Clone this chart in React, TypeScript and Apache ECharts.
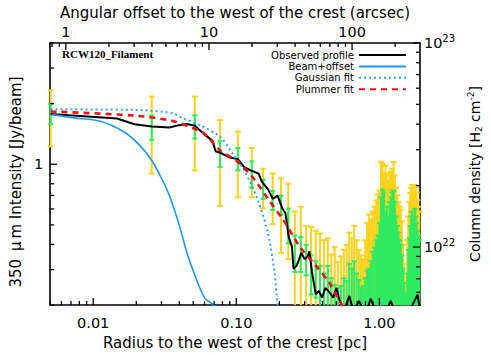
import { useEffect, useRef } from 'react';
import * as echarts from 'echarts';

// Axis ranges
const radiusRange = [0.005, 1.92]; // pc
const intensityRange = [0.2, 4]; // Jy/beam
const columnRange = [5.2e21, 1e23]; // H2 cm^-2
const pcPerArcsec = 0.00644;

// Observed profile
const obsR = [0.00504, 0.01468, 0.01944, 0.02574, 0.03411, 0.03981, 0.04524, 0.05136, 0.05989, 0.0681, 0.07165, 0.07737, 0.0902, 0.1025, 0.1136, 0.1259, 0.143, 0.1504, 0.1667, 0.18, 0.1944, 0.2099, 0.2208, 0.2327, 0.2447, 0.2512, 0.2642, 0.2853, 0.3001, 0.3162, 0.3241, 0.3379, 0.3592, 0.3777, 0.398, 0.4188, 0.4406, 0.4756, 0.5012, 0.5272, 0.569, 0.6166, 0.66, 0.72, 0.8, 0.87, 0.95, 1.05, 1.2, 1.3, 1.5, 1.7, 1.85, 1.92];
const obsI = [1.774, 1.687, 1.58, 1.539, 1.522, 1.563, 1.585, 1.551, 1.406, 1.31, 1.16, 1.14, 1.079, 1.06, 0.968, 0.933, 0.9, 0.822, 0.75, 0.673, 0.698, 0.603, 0.571, 0.435, 0.39, 0.303, 0.314, 0.363, 0.338, 0.35, 0.37, 0.292, 0.226, 0.235, 0.218, 0.243, 0.235, 0.218, 0.243, 0.211, 0.19, 0.222, 0.185, 0.21, 0.18, 0.215, 0.185, 0.17, 0.21, 0.18, 0.16, 0.2, 0.225, 0.19];

// Beam + offset
const beamR = [0.00514, 0.00736, 0.01106, 0.01624, 0.021, 0.02574, 0.03001, 0.03411, 0.03981, 0.04524, 0.05136, 0.05989, 0.06982, 0.0774];
const beamI = [1.762, 1.698, 1.638, 1.453, 1.247, 1.04, 0.852, 0.698, 0.503, 0.363, 0.281, 0.218, 0.1995, 0.185];

// Gaussian fit
const gaussR = [0.00504, 0.01944, 0.03589, 0.04188, 0.0569, 0.07737, 0.0949, 0.1166, 0.143, 0.1667, 0.1848, 0.1944, 0.204];
const gaussI = [1.873, 1.861, 1.793, 1.698, 1.551, 1.366, 1.119, 0.9, 0.649, 0.452, 0.292, 0.1995, 0.16];

// Plummer fit
const plumR = [0.00504, 0.01944, 0.03589, 0.05136, 0.05989, 0.07737, 0.1, 0.129, 0.1667, 0.2154, 0.2779, 0.3592, 0.4406, 0.5412, 0.585];
const plumI = [1.827, 1.743, 1.638, 1.496, 1.417, 1.169, 1.04, 0.868, 0.673, 0.522, 0.39, 0.314, 0.262, 0.203, 0.186];

// Error bars (0.1 = extends below the plotted range)
const barR = [0.00504, 0.02565, 0.0513, 0.077, 0.1026, 0.1283, 0.1539, 0.1796, 0.2052, 0.2309, 0.2565, 0.2822, 0.3078, 0.3335, 0.3591, 0.3848, 0.4104, 0.4361, 0.4617, 0.4874, 0.513, 0.5387, 0.5643, 0.59, 0.6156, 0.6413, 0.6669, 0.6926, 0.7182, 0.7439, 0.7695, 0.7952, 0.8208, 0.8465, 0.8721, 0.8978, 0.9234, 0.9491, 0.9747, 1.0004, 1.026, 1.0517, 1.0773, 1.103, 1.1286, 1.1543, 1.1799, 1.2056, 1.2312, 1.2569, 1.2825, 1.3082, 1.3338, 1.3595, 1.3851, 1.4108, 1.4364, 1.4621, 1.4877, 1.5134, 1.539, 1.5647, 1.5903, 1.616, 1.6416, 1.6673, 1.6929, 1.7186, 1.7442, 1.7699, 1.7955, 1.8212, 1.8468, 1.8725, 1.8981];
const yellowHi = [2.329, 2.167, 2.167, 1.656, 1.453, 1.204, 0.95, 0.9, 0.852, 0.801, 0.582, 0.615, 0.494, 0.489, 0.468, 0.453, 0.42, 0.429, 0.356, 0.389, 0.327, 0.349, 0.376, 0.398, 0.458, 0.429, 0.494, 0.42, 0.376, 0.353, 0.338, 0.42, 0.511, 0.563, 0.533, 0.582, 0.615, 0.663, 0.708, 0.74, 1.025, 1.003, 0.9, 0.982, 0.88, 0.825, 0.9, 0.92, 0.95, 1.025, 0.88, 0.764, 0.7, 0.649, 0.615, 0.595, 0.522, 0.398, 0.32, 0.257, 0.277, 0.42, 0.551, 0.649, 0.724, 0.764, 0.789, 0.74, 0.685, 0.789, 0.764, 0.724, 0.663, 0.615, 0.582];
const yellowLo = [1.225, 0.9, 0.933, 0.621, 0.685, 0.685, 0.603, 0.504, 0.363, 0.338, 0.1, 0.1, 0.1, 0.1, 0.1, 0.1, 0.1, 0.1, 0.1, 0.1, 0.1, 0.1, 0.1, 0.1, 0.1, 0.1, 0.1, 0.1, 0.1, 0.1, 0.1, 0.1, 0.1, 0.1, 0.1, 0.1, 0.1, 0.1, 0.1, 0.1, 0.1, 0.1, 0.1, 0.1, 0.1, 0.1, 0.1, 0.1, 0.1, 0.1, 0.1, 0.1, 0.1, 0.1, 0.1, 0.1, 0.1, 0.1, 0.1, 0.1, 0.1, 0.1, 0.1, 0.1, 0.1, 0.1, 0.1, 0.1, 0.1, 0.1, 0.1, 0.1, 0.1, 0.1, 0.1];
const greenHi = [1.986, 1.743, 1.749, 1.303, 1.204, 1.033, 0.836, 0.737, 0.698, 0.603, 0.443, 0.435, 0.398, 0.353, 0.33, 0.313, 0.287, 0.313, 0.272, 0.252, 0.243, 0.249, 0.272, 0.263, 0.32, 0.303, 0.33, 0.287, 0.266, 0.243, 0.249, 0.272, 0.296, 0.303, 0.33, 0.368, 0.385, 0.42, 0.443, 0.511, 0.685, 0.748, 0.724, 0.582, 0.615, 0.551, 0.649, 0.685, 0.724, 0.74, 0.649, 0.551, 0.494, 0.458, 0.42, 0.398, 0.353, 0.303, 0.257, 0.218, 0.2306, 0.287, 0.376, 0.429, 0.494, 0.551, 0.582, 0.533, 0.494, 0.601, 0.551, 0.511, 0.468, 0.443, 0.42];
const greenLo = [1.58, 1.317, 1.342, 0.968, 0.933, 0.764, 0.673, 0.593, 0.562, 0.405, 0.292, 0.292, 0.281, 0.226, 0.218, 0.1, 0.1, 0.1, 0.1, 0.1, 0.1, 0.1, 0.1, 0.1, 0.1, 0.1, 0.1, 0.1, 0.1, 0.1, 0.1, 0.1, 0.1, 0.1, 0.1, 0.1, 0.1, 0.1, 0.1, 0.1, 0.1, 0.1, 0.1, 0.1, 0.1, 0.1, 0.1, 0.1, 0.1, 0.1, 0.1, 0.1, 0.1, 0.1, 0.1, 0.1, 0.1, 0.1, 0.1, 0.1, 0.1, 0.1, 0.1, 0.1, 0.1, 0.1, 0.1, 0.1, 0.1, 0.1, 0.1, 0.1, 0.1, 0.1, 0.1];

const FONT = 'DejaVu Sans';

function isPow10(v: number) {
  const l = Math.log10(v);
  return Math.abs(l - Math.round(l)) < 1e-6;
}

function logTicks(lo: number, hi: number) {
  const out: { v: number; major: boolean }[] = [];
  const k0 = Math.floor(Math.log10(lo));
  const k1 = Math.ceil(Math.log10(hi));
  for (let k = k0; k <= k1; k++) {
    for (let m = 1; m <= 9; m++) {
      const v = m * Math.pow(10, k);
      if (v >= lo * 0.9999 && v <= hi * 1.0001) out.push({ v, major: m === 1 });
    }
  }
  return out;
}

function errorSeries(hi: number[], lo: number[], color: string, cap: number, z: number) {
  return {
    type: 'custom',
    xAxisIndex: 0,
    yAxisIndex: 0,
    z,
    silent: true,
    data: barR.map((r, i) => [r, hi[i], lo[i]]),
    encode: { x: 0, y: [1, 2] },
    renderItem: (params: any, api: any) => {
      const cs = params.coordSys;
      const r = api.value(0);
      const h = api.value(1);
      const l = api.value(2);
      const top = api.coord([r, h]);
      const bottomEdge = cs.y + cs.height;
      const below = l < intensityRange[0];
      const bot = below ? [top[0], bottomEdge] : api.coord([r, l]);
      const children: any[] = [
        { type: 'line', shape: { x1: top[0], y1: top[1], x2: top[0], y2: bot[1] }, style: { stroke: color, lineWidth: 2 } },
        { type: 'line', shape: { x1: top[0] - cap, y1: top[1], x2: top[0] + cap, y2: top[1] }, style: { stroke: color, lineWidth: 2 } },
      ];
      if (!below) {
        children.push({ type: 'line', shape: { x1: bot[0] - cap, y1: bot[1], x2: bot[0] + cap, y2: bot[1] }, style: { stroke: color, lineWidth: 2 } });
      }
      return { type: 'group', children };
    },
  };
}

function tickSeries(kind: 'bottom' | 'top' | 'left' | 'right', ticks: { v: number; major: boolean }[]) {
  const isX = kind === 'bottom' || kind === 'top';
  return {
    type: 'custom',
    xAxisIndex: kind === 'top' ? 1 : 0,
    yAxisIndex: kind === 'right' ? 1 : 0,
    z: 10,
    silent: true,
    data: ticks.map((t) => (isX ? [t.v, 1] : [1, t.v])),
    encode: { x: 0, y: 1 },
    renderItem: (params: any, api: any) => {
      const cs = params.coordSys;
      const t = ticks[params.dataIndex];
      const len = t.major ? 7 : 4;
      const p = api.coord([api.value(0), api.value(1)]);
      let shape;
      if (kind === 'bottom') {
        const y = cs.y + cs.height;
        shape = { x1: p[0], y1: y, x2: p[0], y2: y - len };
      } else if (kind === 'top') {
        const y = cs.y;
        shape = { x1: p[0], y1: y, x2: p[0], y2: y + len };
      } else if (kind === 'left') {
        const x = cs.x;
        shape = { x1: x, y1: p[1], x2: x + len, y2: p[1] };
      } else {
        const x = cs.x + cs.width;
        shape = { x1: x, y1: p[1], x2: x - len, y2: p[1] };
      }
      return { type: 'line', shape, style: { stroke: '#000', lineWidth: 1.3 } };
    },
  };
}

const pairs = (xs: number[], ys: number[]) => xs.map((x, i) => [x, ys[i]]);

export default function App() {
  const ref = useRef<HTMLDivElement>(null);
  useEffect(() => {
    if (!ref.current) return;
    const chart = echarts.init(ref.current, undefined, { renderer: 'svg' });
    const axisLine = { show: true, lineStyle: { color: '#000', width: 1.6 } };
    const arcRange = [radiusRange[0] / pcPerArcsec, radiusRange[1] / pcPerArcsec];
    const option: any = {
      animation: false,
      backgroundColor: '#fff',
      textStyle: { fontFamily: FONT },
      grid: { left: 42, right: 62, top: 33, bottom: 45, containLabel: false },
      legend: {
        data: ['Observed profile', 'Beam+offset', 'Gaussian fit', 'Plummer fit'],
        orient: 'vertical',
        align: 'right',
        right: 79,
        top: 45,
        itemWidth: 47,
        itemHeight: 10,
        itemGap: 1.4,
        selectedMode: false,
        itemStyle: { opacity: 0 },
        textStyle: { fontFamily: FONT, fontSize: 10, color: '#000' },
      },
      graphic: [
        {
          type: 'text',
          left: 62,
          top: 48,
          style: { text: 'RCW120_Filament', font: 'bold 11px "Liberation Serif"', fill: '#000' },
        },
      ],
      xAxis: [
        {
          type: 'log',
          position: 'bottom',
          min: radiusRange[0],
          max: radiusRange[1],
          name: 'Radius to the west of the crest [pc]',
          nameLocation: 'middle',
          nameGap: 25,
          nameTextStyle: { fontFamily: FONT, fontSize: 15, color: '#000' },
          axisLine,
          axisTick: { show: false },
          splitLine: { show: false },
          axisLabel: {
            margin: 10,
            fontFamily: FONT,
            fontSize: 14.5,
            color: '#000',
            formatter: (v: number) => (isPow10(v) ? v.toFixed(2) : ''),
          },
        },
        {
          type: 'log',
          position: 'top',
          min: arcRange[0],
          max: arcRange[1],
          name: 'Angular offset to the west of the crest (arcsec)',
          nameLocation: 'middle',
          nameGap: 16,
          nameTextStyle: { fontFamily: FONT, fontSize: 15, color: '#000' },
          axisLine,
          axisTick: { show: false },
          splitLine: { show: false },
          axisLabel: {
            margin: 3,
            fontFamily: FONT,
            fontSize: 14.5,
            color: '#000',
            formatter: (v: number) => (isPow10(v) ? String(Math.round(v)) : ''),
          },
        },
      ],
      yAxis: [
        {
          type: 'log',
          position: 'left',
          min: intensityRange[0],
          max: intensityRange[1],
          name: '350 {mu|μ}m Intensity [Jy/beam]',
          nameLocation: 'middle',
          nameGap: 22,
          nameRotate: 90,
          nameTextStyle: {
            fontFamily: FONT,
            fontSize: 15,
            color: '#000',
            padding: [0, 16, 0, 0],
            rich: { mu: { fontFamily: FONT, fontSize: 15, color: '#000', padding: [0, 3, 0, 3] } },
          },
          axisLine,
          axisTick: { show: false },
          splitLine: { show: false },
          axisLabel: {
            margin: 7,
            fontFamily: FONT,
            fontSize: 14.5,
            color: '#000',
            formatter: (v: number) => (isPow10(v) ? String(Math.round(v)) : ''),
          },
        },
        {
          type: 'log',
          position: 'right',
          min: columnRange[0],
          max: columnRange[1],
          name: 'Column density [H{sub|2} cm{sup|-2}]',
          nameLocation: 'middle',
          nameGap: 40,
          nameRotate: 90,
          nameTextStyle: {
            fontFamily: FONT,
            fontSize: 14,
            color: '#000',
            rich: {
              sub: { fontFamily: FONT, fontSize: 9, color: '#000', padding: [8, 0, 0, 0] },
              sup: { fontFamily: FONT, fontSize: 9, color: '#000', padding: [0, 0, 8, 0] },
            },
          },
          axisLine,
          axisTick: { show: false },
          splitLine: { show: false },
          axisLabel: {
            margin: 4,
            fontFamily: FONT,
            fontSize: 14.5,
            color: '#000',
            formatter: (v: number) => (isPow10(v) ? '10{sup|' + Math.round(Math.log10(v)) + '}' : ''),
            rich: {
              sup: { fontFamily: FONT, fontSize: 10, color: '#000', padding: [0, 0, 9, 0] },
            },
          },
        },
      ],
      series: [
        errorSeries(yellowHi, yellowLo, '#FFD21C', 3, 2),
        errorSeries(greenHi, greenLo, '#2EEA63', 2.5, 3),
        {
          name: 'Observed profile',
          type: 'line',
          data: pairs(obsR, obsI),
          symbol: 'none',
          z: 4,
          lineStyle: { color: '#000', width: 2 },
          itemStyle: { color: '#000' },
        },
        {
          name: 'Beam+offset',
          type: 'line',
          data: pairs(beamR, beamI),
          symbol: 'none',
          smooth: 0.3,
          z: 4,
          lineStyle: { color: '#1E98F0', width: 1.6 },
          itemStyle: { color: '#1E98F0' },
        },
        {
          name: 'Gaussian fit',
          type: 'line',
          data: pairs(gaussR, gaussI),
          symbol: 'none',
          smooth: 0.3,
          z: 4,
          lineStyle: { color: '#35A2F2', width: 2, type: [2, 3] },
          itemStyle: { color: '#35A2F2' },
        },
        {
          name: 'Plummer fit',
          type: 'line',
          data: pairs(plumR, plumI),
          symbol: 'none',
          smooth: 0.3,
          z: 5,
          lineStyle: { color: '#F21010', width: 2.6, type: [6, 5] },
          itemStyle: { color: '#F21010' },
        },
        tickSeries('bottom', logTicks(radiusRange[0], radiusRange[1])),
        tickSeries('top', logTicks(arcRange[0], arcRange[1])),
        tickSeries('left', logTicks(intensityRange[0], intensityRange[1])),
        tickSeries('right', logTicks(columnRange[0], columnRange[1])),
      ],
    };
    chart.setOption(option);
    return () => chart.dispose();
  }, []);
  return <div ref={ref} style={{ width: 491, height: 355, position: 'absolute', left: 0, top: 0 }} />;
}
